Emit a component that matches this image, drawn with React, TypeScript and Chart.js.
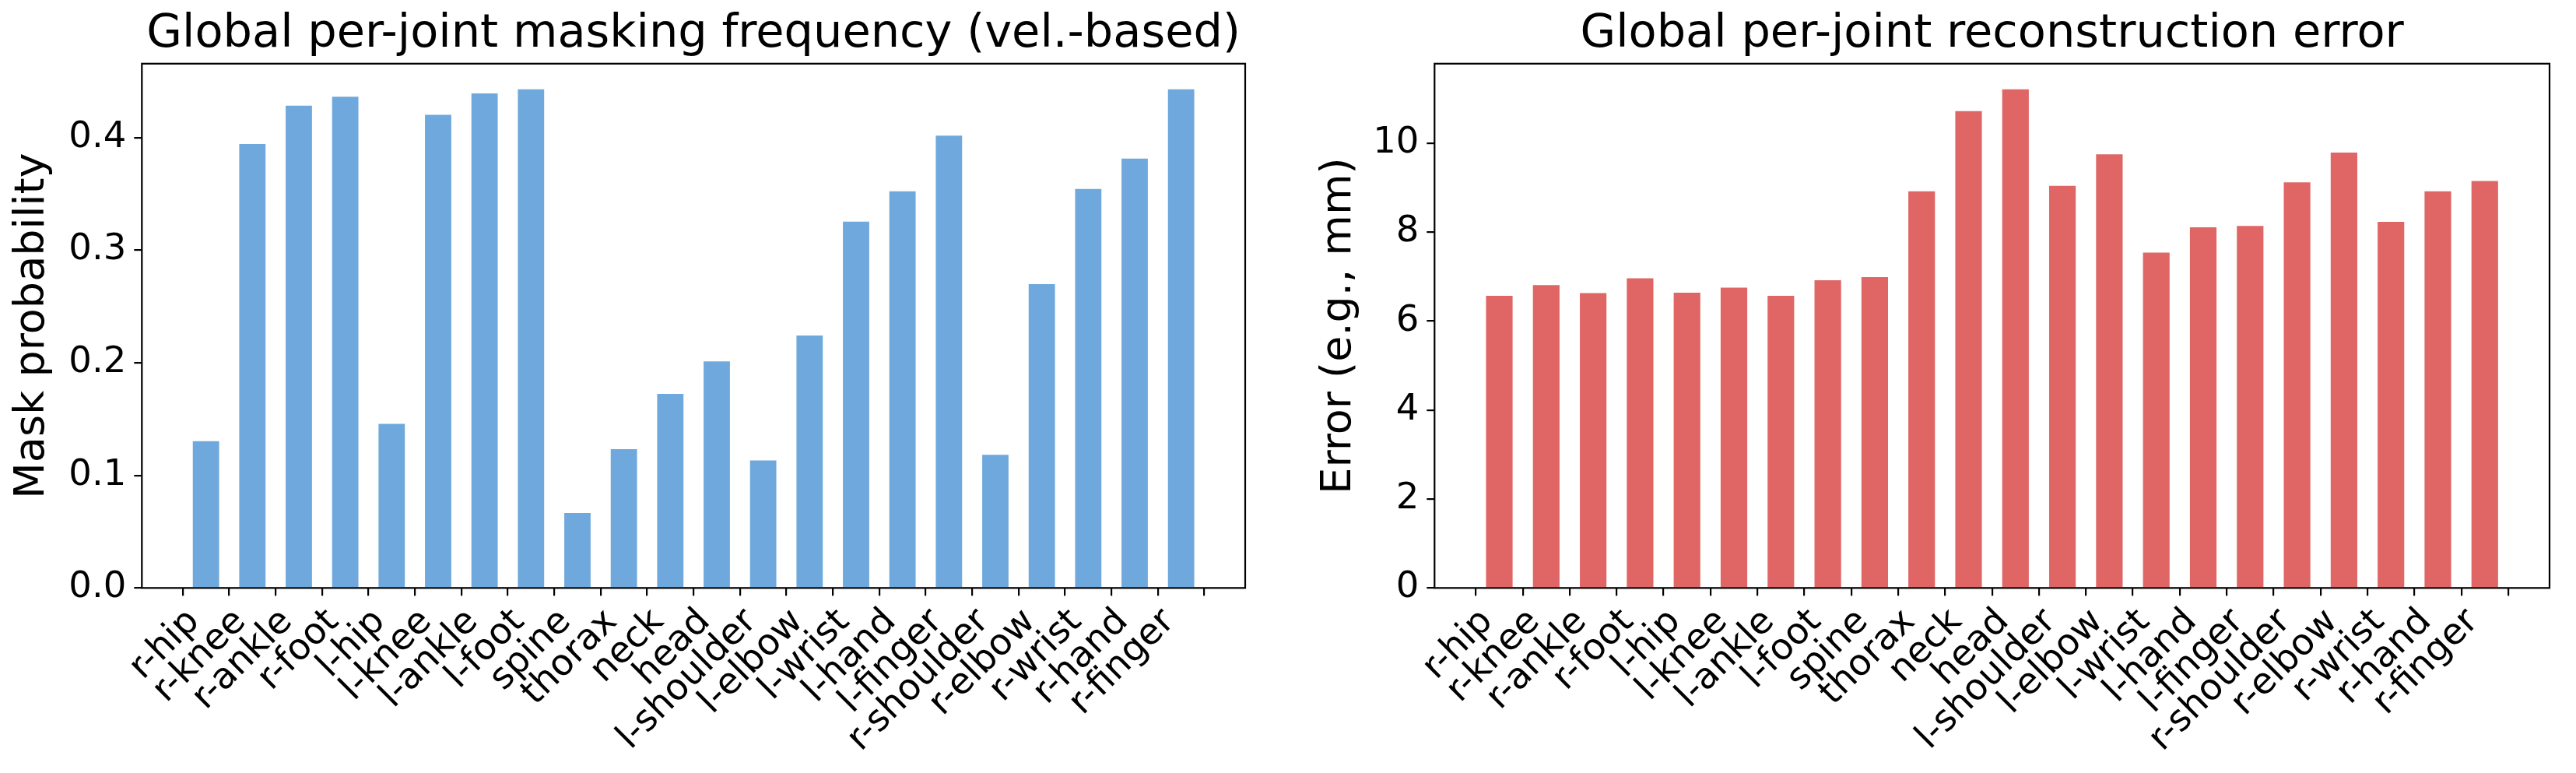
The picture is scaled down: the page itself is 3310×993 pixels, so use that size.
import React, { useEffect, useRef } from 'react';
import { Chart, registerables } from 'chart.js';

Chart.register(...registerables);

const joints = [
  'r-hip', 'r-knee', 'r-ankle', 'r-foot', 'l-hip', 'l-knee', 'l-ankle', 'l-foot',
  'spine', 'thorax', 'neck', 'head', 'l-shoulder', 'l-elbow', 'l-wrist', 'l-hand',
  'l-finger', 'r-shoulder', 'r-elbow', 'r-wrist', 'r-hand', 'r-finger',
];
const maskProb = [
  0.131, 0.395, 0.429, 0.437, 0.1465, 0.421, 0.44, 0.4435,
  0.0673, 0.124, 0.173, 0.202, 0.114, 0.225, 0.326, 0.353,
  0.4025, 0.119, 0.2705, 0.355, 0.382, 0.4435,
];
const reconError = [
  6.59, 6.83, 6.65, 6.98, 6.66, 6.77, 6.59, 6.94,
  7.01, 8.94, 10.74, 11.23, 9.06, 9.77, 7.56, 8.13,
  8.16, 9.14, 9.81, 8.25, 8.94, 9.17,
];
const maskTicks = [0, 0.1, 0.2, 0.3, 0.4];
const errorTicks = [0, 2, 4, 6, 8, 10];

const FONT = "'DejaVu Sans', sans-serif";
const TICK_SIZE = 46.5;

const framePlugin = {
  id: 'frame',
  afterDatasetsDraw(chart: any) {
    const { ctx, chartArea } = chart;
    ctx.save();
    ctx.strokeStyle = '#000';
    ctx.lineWidth = 2.2;
    ctx.strokeRect(chartArea.left, chartArea.top, chartArea.right - chartArea.left, chartArea.bottom - chartArea.top);
    ctx.restore();
  },
};

// matplotlib-style rotated tick labels (rotation=45, ha='right', va='top')
const xLabelPlugin = {
  id: 'xlabels',
  afterDraw(chart: any) {
    const { ctx } = chart;
    const xs = chart.scales.x;
    const top = chart.chartArea.bottom;
    const h = 0.968 * TICK_SIZE;
    const d = (h / 2) * Math.SQRT1_2;
    ctx.save();
    ctx.fillStyle = '#000';
    ctx.font = `${TICK_SIZE}px ${FONT}`;
    ctx.textAlign = 'right';
    ctx.textBaseline = 'alphabetic';
    joints.forEach((label, i) => {
      const px = xs.getPixelForValue(i) - d;
      const py = top + 10 + 9.7 + d;
      ctx.save();
      ctx.translate(px, py);
      ctx.rotate(-Math.PI / 4);
      ctx.fillText(label, 0, 0.276 * TICK_SIZE);
      ctx.restore();
    });
    ctx.restore();
  },
};

function makeConfig(opts: {
  values: number[];
  color: string;
  yTicks: number[];
  decimals: number;
  yTitle: string;
  title: string;
  axisWidth: number;
  padRight: number;
  yTitlePad: number;
}) {
  const n = joints.length;
  const margin = (n - 1 + 0.6) * 0.05;
  const ymax = Math.max(...opts.values) * 1.05;
  return {
    type: 'bar' as const,
    data: {
      datasets: [
        {
          data: opts.values.map((v, i) => ({ x: i, y: v })),
          backgroundColor: opts.color,
          borderColor: 'rgba(255,255,255,0.35)',
          borderWidth: 1,
          barPercentage: 0.6,
          categoryPercentage: 1.0,
        },
      ],
    },
    options: {
      responsive: false,
      animation: false,
      devicePixelRatio: 1,
      layout: { padding: { left: 0, right: opts.padRight, top: 0, bottom: 0 } },
      plugins: {
        legend: { display: false },
        tooltip: { enabled: false },
        title: {
          display: true,
          text: opts.title,
          fullSize: false,
          color: '#000',
          font: { family: FONT, size: 59, weight: 'normal' as const, lineHeight: 1.2 },
          padding: { top: 9, bottom: 2 },
        },
      },
      scales: {
        x: {
          type: 'linear' as const,
          min: -0.3 - margin,
          max: n - 1 + 0.3 + margin,
          offset: false,
          afterBuildTicks(s: any) {
            s.ticks = joints.map((_, i) => ({ value: i }));
          },
          afterFit(s: any) {
            s.height = 993 - 755.3;
          },
          ticks: {
            display: false,
            autoSkip: false,
            maxRotation: 0,
            minRotation: 0,
            callback: (v: any) => joints[Math.round(Number(v))] ?? '',
          },
          grid: {
            drawOnChartArea: false,
            drawTicks: true,
            tickLength: 10,
            lineWidth: 2.2,
            color: '#000',
          },
          border: { display: false },
        },
        y: {
          type: 'linear' as const,
          min: 0,
          max: ymax,
          afterBuildTicks(s: any) {
            s.ticks = opts.yTicks.map((v) => ({ value: v }));
          },
          afterFit(s: any) {
            s.width = opts.axisWidth;
          },
          ticks: {
            color: '#000',
            padding: 10,
            font: { family: FONT, size: TICK_SIZE },
            callback: (v: any) => Number(v).toFixed(opts.decimals),
          },
          grid: {
            drawOnChartArea: false,
            drawTicks: true,
            tickLength: 10,
            lineWidth: 2.2,
            color: '#000',
          },
          border: { display: false },
          title: {
            display: true,
            text: opts.yTitle,
            color: '#000',
            font: { family: FONT, size: 54, lineHeight: 1.2 },
            padding: { top: opts.yTitlePad, bottom: 0 },
          },
        },
      },
    },
    plugins: [framePlugin, xLabelPlugin],
  };
}

function BarPanel(props: { left: number; width: number; config: any }) {
  const ref = useRef<HTMLCanvasElement | null>(null);
  useEffect(() => {
    if (!ref.current) return;
    const chart = new Chart(ref.current, props.config);
    return () => chart.destroy();
  }, []);
  return (
    <canvas
      ref={ref}
      width={props.width}
      height={993}
      style={{ position: 'absolute', left: props.left, top: 0, width: props.width, height: 993 }}
    />
  );
}

export default function App() {
  const leftConfig = makeConfig({
    values: maskProb,
    color: '#6fa8dc',
    yTicks: maskTicks,
    decimals: 1,
    yTitle: 'Mask probability',
    title: 'Global per-joint masking frequency (vel.-based)',
    axisWidth: 182.3,
    padRight: 1640 - 1600,
    yTitlePad: 10,
  });
  const rightConfig = makeConfig({
    values: reconError,
    color: '#e06666',
    yTicks: errorTicks,
    decimals: 0,
    yTitle: 'Error (e.g., mm)',
    title: 'Global per-joint reconstruction error',
    axisWidth: 1843.3 - 1680,
    padRight: 1630 - (3276 - 1680),
    yTitlePad: 9,
  });
  return (
    <div style={{ position: 'absolute', left: 0, top: 0, width: 3310, height: 993, background: '#fff' }}>
      <BarPanel left={0} width={1640} config={leftConfig} />
      <BarPanel left={1680} width={1630} config={rightConfig} />
    </div>
  );
}
